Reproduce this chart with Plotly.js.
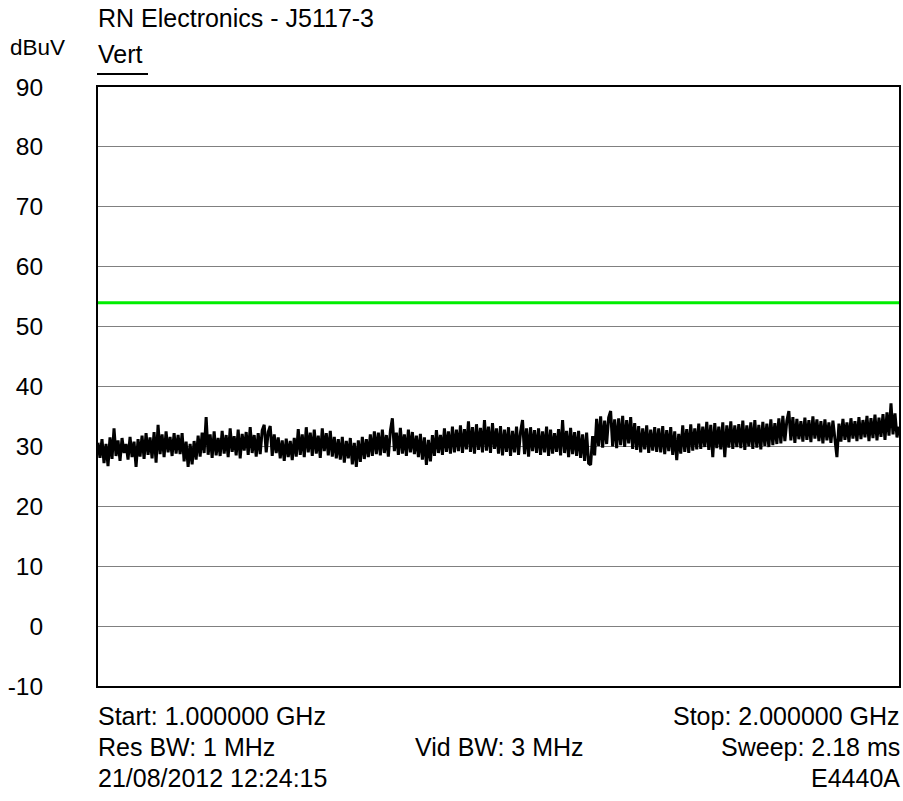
<!DOCTYPE html>
<html>
<head>
<meta charset="utf-8">
<script src="https://cdn.plot.ly/plotly-3.0.1.min.js"></script>
<style>html,body{margin:0;padding:0;background:#fff;}#chart{width:903px;height:801px;}</style>
</head>
<body>
<div id="chart"></div>
<script>
// ---- data ----
const startGHz = 1.0;
const stopGHz = 2.0;
const limitLevel = 54;           // green limit line, dBuV
const yTicks = [-10, 0, 10, 20, 30, 40, 50, 60, 70, 80, 90];
const traceLevels = [
 30.6,28.1,31.2,27.2,30.4,26.7,31.5,27.9,33.0,28.4,31.0,27.6,31.4,28.9,30.4,27.8,31.6,28.2,30.8,26.6,
 31.2,28.3,31.8,27.9,32.2,28.6,31.5,28.0,32.4,27.3,33.6,28.7,32.0,28.2,32.5,29.0,31.6,28.4,32.2,28.8,
 31.9,28.7,32.2,27.5,30.8,26.6,30.4,27.0,30.9,27.8,31.8,28.3,32.3,28.9,34.9,28.6,32.0,28.1,32.5,28.5,
 31.4,28.4,32.6,28.8,31.9,28.2,33.0,29.1,31.7,28.5,32.8,28.0,32.1,29.3,32.4,28.6,33.2,28.9,31.9,28.3,
 32.2,28.7,32.7,33.6,29.0,32.4,33.4,28.4,32.0,28.9,31.5,28.0,31.0,27.6,31.3,28.2,30.9,27.7,31.4,28.3,
 32.9,28.6,32.0,28.2,33.2,29.0,32.3,28.4,32.8,28.8,31.8,28.1,33.0,29.2,32.2,28.5,32.6,28.3,31.6,28.0,
 31.2,27.8,31.6,27.3,30.9,28.0,31.4,27.0,30.6,26.6,31.0,27.4,31.6,27.9,31.2,28.2,32.0,28.4,32.5,28.7,
 32.3,28.5,32.8,28.9,31.9,28.3,32.6,34.7,29.2,32.3,28.6,33.1,28.8,32.0,28.4,32.8,29.0,32.4,28.7,31.8,
 28.2,32.1,27.8,31.5,26.9,31.1,27.5,31.9,28.4,32.7,28.9,31.9,28.6,33.0,29.1,32.5,28.8,33.3,29.0,32.8,
 29.2,33.5,28.9,32.9,29.5,34.2,29.1,33.2,28.8,33.7,29.4,33.1,29.0,34.4,29.3,33.3,28.9,33.9,29.6,33.0,
 28.8,33.4,28.5,32.8,29.1,33.2,28.4,32.6,29.0,33.3,28.6,32.4,34.4,28.7,33.0,28.3,33.2,29.2,32.7,28.9,
 33.0,28.6,32.5,29.0,33.3,28.4,32.8,28.8,32.2,29.1,32.9,28.5,34.4,28.9,32.6,28.2,33.1,28.7,32.4,28.4,
 32.6,28.1,32.0,27.6,32.3,27.2,26.9,31.7,28.5,34.6,30.1,35.0,29.8,34.3,30.4,34.8,35.9,30.0,34.5,29.7,
 34.7,30.2,35.1,29.9,34.4,30.5,34.9,29.6,33.9,29.4,33.4,29.0,33.0,29.5,33.5,28.9,32.8,29.3,33.2,29.1,
 33.0,29.0,33.4,28.7,32.7,29.2,33.2,28.6,32.5,27.7,32.1,28.8,33.5,29.1,32.9,28.9,33.7,29.3,33.0,29.5,
 33.8,29.6,33.3,29.9,34.1,29.4,33.6,28.2,33.9,29.7,33.3,29.5,34.0,28.2,33.5,29.8,34.2,29.6,33.5,29.9,
 33.7,29.7,34.3,29.4,33.5,30.0,34.0,29.6,34.4,29.8,33.6,29.5,34.1,30.1,33.8,29.9,34.5,30.2,33.9,30.4,
 34.7,30.5,35.1,30.9,34.3,35.9,31.0,34.9,30.6,34.6,31.2,34.2,30.8,34.8,31.1,34.4,30.7,35.0,31.3,34.5,
 30.9,34.2,30.5,34.5,31.0,34.0,30.6,34.3,31.2,28.2,33.8,30.8,34.6,31.1,34.0,30.7,34.7,31.3,34.2,30.9,
 34.9,31.2,34.4,31.5,35.1,30.9,34.7,31.4,35.3,31.0,34.8,31.6,35.4,31.1,35.7,31.8,37.2,32.0,35.5,31.5,33.3
];
const titleText = "RN Electronics - J5117-3";
const unitText = "dBuV";
const traceName = "Vert";
const footerLeft = ["Start: 1.000000 GHz", "Res BW: 1 MHz", "21/08/2012 12:24:15"];
const footerMid = ["", "Vid BW: 3 MHz", ""];
const footerRight = ["Stop: 2.000000 GHz", "Sweep: 2.18 ms", "E4440A"];

// sweep points are evenly spaced between start and stop
const nPts = traceLevels.length;
const freqs = traceLevels.map((_, i) => startGHz + (stopGHz - startGHz) * i / (nPts - 1));

// ---- layout helpers (pixel -> paper) ----
const W = 903, H = 801, L = 98, R = 899, T = 87, B = 686;
const px = x => (x - L) / (R - L);
const py = y => (B - y) / (B - T);
const FONT = "Liberation Sans, Arial, sans-serif";
const FS = 25;

const annotations = [];
function txt(text, x, y, xanchor, size) {
  annotations.push({text: text, x: px(x), y: py(y), xref: 'paper', yref: 'paper',
    xanchor: xanchor, yanchor: 'middle', showarrow: false,
    font: {family: FONT, size: size || FS, color: '#000'}});
}
txt(titleText, 96, 18, 'left');
txt(unitText, 8, 47, 'left', 22.5);
txt(traceName, 96, 54, 'left');
[716, 747, 778].forEach((y, i) => {
  if (footerLeft[i]) txt(footerLeft[i], 96, y, 'left');
  if (footerMid[i]) txt(footerMid[i], 499, y, 'center');
  if (footerRight[i]) txt(footerRight[i], 902, y, 'right');
});

const data = [
  {x: [startGHz, stopGHz], y: [limitLevel, limitLevel], mode: 'lines',
   line: {color: '#00ee00', width: 3}, hoverinfo: 'skip'},
  {x: freqs, y: traceLevels, mode: 'lines', line: {color: '#000', width: 3}}
];

const layout = {
  width: W, height: H,
  margin: {l: L, r: W - R, t: T, b: H - B},
  paper_bgcolor: '#fff', plot_bgcolor: '#fff',
  showlegend: false,
  xaxis: {range: [startGHz, stopGHz], showticklabels: false, showgrid: false,
    zeroline: false, showline: true, mirror: true, linecolor: '#000', linewidth: 2, ticks: ''},
  yaxis: {range: [-10, 90], tickvals: yTicks, ticktext: yTicks.map(String),
    showgrid: true, gridcolor: '#808080', gridwidth: 1, zeroline: false,
    showline: true, mirror: true, linecolor: '#000', linewidth: 2, ticks: '',
    ticklabelstandoff: 48, tickfont: {family: FONT, size: 24.5, color: '#000'}},
  annotations: annotations,
  shapes: [{type: 'line', xref: 'paper', yref: 'paper', x0: px(97), x1: px(148),
    y0: py(74), y1: py(74), line: {color: '#000', width: 2}}]
};

Plotly.newPlot('chart', data, layout, {displayModeBar: false, staticPlot: true});
</script>
</body>
</html>
